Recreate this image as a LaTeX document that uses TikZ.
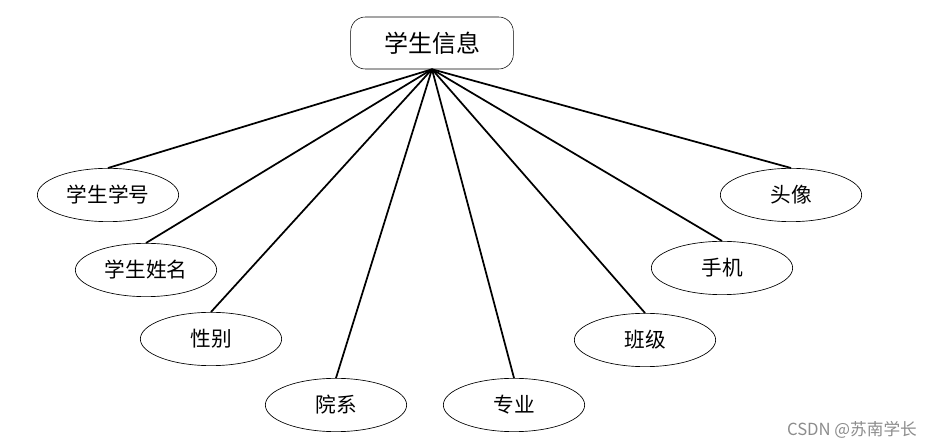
\documentclass[tikz,border=0pt]{standalone}
\usepackage{fontspec}
\newfontfamily\cjk{Noto Sans CJK SC}
\usepackage{tikz}
\usetikzlibrary{shapes}
\usetikzlibrary{positioning}
\tikzstyle{entity} = [rectangle, draw, fill=white, rounded corners=11pt,
minimum width=122pt, minimum height=39pt, inner sep=0pt, font=\cjk\fontsize{18pt}{18pt}\selectfont]
\tikzstyle{attr} = [ellipse, draw, fill=white, line width=0.5pt,
minimum width=106pt, minimum height=40pt, inner sep=0pt, font=\cjk\fontsize{15.5pt}{15.5pt}\selectfont]
\tikzstyle{line} = [draw, line width=1.3pt]

\begin{document}
\begin{tikzpicture}[x=0.75pt,y=-0.75pt]
	\useasboundingbox (0,0) rectangle (936,448);
	\node [entity] at (432,43) (info) {学生信息};
	\node [attr] at (108,195) (xuehao) {学生学号};
	\node [attr] at (146,270) (xingming) {学生姓名};
	\node [attr] at (211,339) (xingbie) {性别};
	\node [attr] at (336,405) (yuanxi) {院系};
	\node [attr] at (514,405) (zhuanye) {专业};
	\node [attr] at (645,340) (banji) {班级};
	\node [attr] at (722,268) (shouji) {手机};
	\node [attr] at (791,195) (touxiang) {头像};
	\path [line] (info.south) -- (xuehao.north);
	\path [line] (info.south) -- (xingming.north);
	\path [line] (info.south) -- (xingbie.north);
	\path [line] (info.south) -- (yuanxi.north);
	\path [line] (info.south) -- (zhuanye.north);
	\path [line] (info.south) -- (banji.north);
	\path [line] (info.south) -- (shouji.north);
	\path [line] (info.south) -- (touxiang.north);
	\node [font=\cjk\fontsize{12.5pt}{12.5pt}\selectfont, text=black!45] at (852,430) (mark) {CSDN @苏南学长};
\end{tikzpicture}
\end{document}
